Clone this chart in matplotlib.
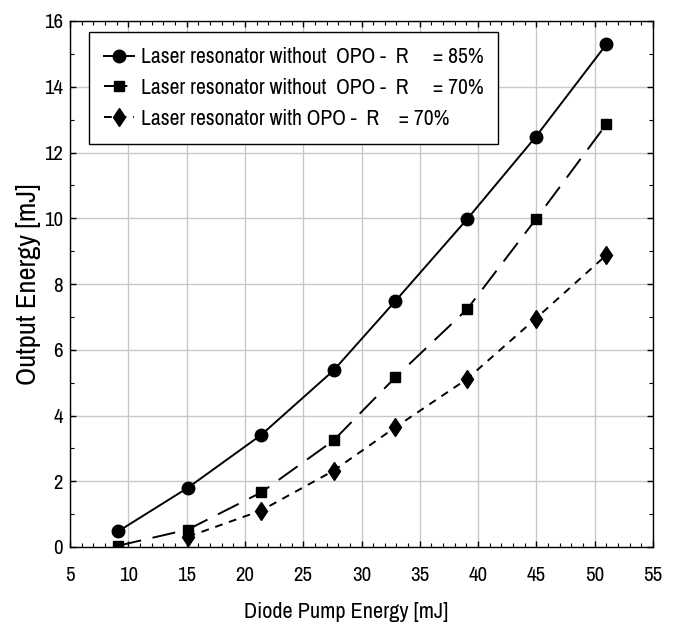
import matplotlib
matplotlib.use("Agg")
import matplotlib.pyplot as plt
from matplotlib import font_manager as fm
from matplotlib.ticker import MultipleLocator

# ---- data ----
pump = [9.15, 15.1, 21.4, 27.6, 32.9, 39.05, 44.95, 51.0]
out_85 = [0.48, 1.80, 3.41, 5.37, 7.48, 9.97, 12.48, 15.29]
out_70 = [0.04, 0.53, 1.66, 3.24, 5.16, 7.23, 9.97, 12.86]
pump_opo = [15.1, 21.4, 27.6, 32.9, 39.05, 44.95, 51.0]
out_opo = [0.31, 1.11, 2.32, 3.64, 5.11, 6.95, 8.88]
labels = ["Laser resonator without  OPO -  R     = 85%",
          "Laser resonator without  OPO -  R     = 70%",
          "Laser resonator with OPO -  R    = 70%"]
xticks = list(range(5, 56, 5))
yticks = list(range(0, 17, 2))

names = {f.name for f in fm.fontManager.ttflist}
fam = "Liberation Sans"
for cand in ["Liberation Sans Narrow", "Arial Narrow", "Archivo Narrow", "Roboto Condensed"]:
    if cand in names:
        fam = cand
        break
plt.rcParams['font.family'] = [fam, 'DejaVu Sans']

fig = plt.figure(figsize=(6.77, 6.31), dpi=100)
ax = fig.add_axes([70/677, 1-547/631, 583/677, 526/631])

lw = 1.4
ax.plot(pump, out_85, color='black', lw=lw, marker='o', ms=9, label=labels[0], zorder=3)
ax.plot(pump, out_70, color='black', lw=lw, marker='s', ms=7.5, dashes=(12, 6), label=labels[1], zorder=3)
ax.plot(pump_opo, out_opo, color='black', lw=lw, marker='d', ms=9.5, dashes=(4, 3.5), label=labels[2], zorder=3)

ax.set_xlim(5, 55)
ax.set_ylim(0, 16)
ax.set_xticks(xticks)
ax.set_yticks(yticks)
ax.xaxis.set_minor_locator(MultipleLocator(1))
ax.yaxis.set_minor_locator(MultipleLocator(1))
ax.tick_params(which='both', direction='in', top=True, right=True, colors='black')
ax.tick_params(which='major', length=4, width=1)
ax.tick_params(which='minor', length=3, width=0.8)
ax.tick_params(axis='x', which='major', labelsize=15, pad=14)
ax.tick_params(axis='y', which='major', labelsize=15, pad=5)
ax.grid(True, which='major', color='#c8c8c8', lw=1)
ax.set_axisbelow(True)
for s in ax.spines.values():
    s.set_linewidth(1.0)
    s.set_color('black')

ax.set_xlabel("Diode Pump Energy [mJ]", fontsize=16)
ax.xaxis.set_label_coords((346-70)/583, (547-612)/526)
ax.xaxis.label.set_va('center')
ax.set_ylabel("Output Energy [mJ]", fontsize=20.5)
ax.yaxis.set_label_coords((29-70)/583, 0.5)
ax.yaxis.label.set_va('center')

leg = ax.legend(loc='upper left', bbox_to_anchor=((89-70)/583, (547-32)/526),
                borderaxespad=0, fontsize=15.5, frameon=True, fancybox=False,
                edgecolor='black', framealpha=1, handlelength=1.4,
                handletextpad=0.3, labelspacing=0.5, borderpad=0.7)
leg.get_frame().set_linewidth(1.0)

fig.savefig("out.png", dpi=100)
